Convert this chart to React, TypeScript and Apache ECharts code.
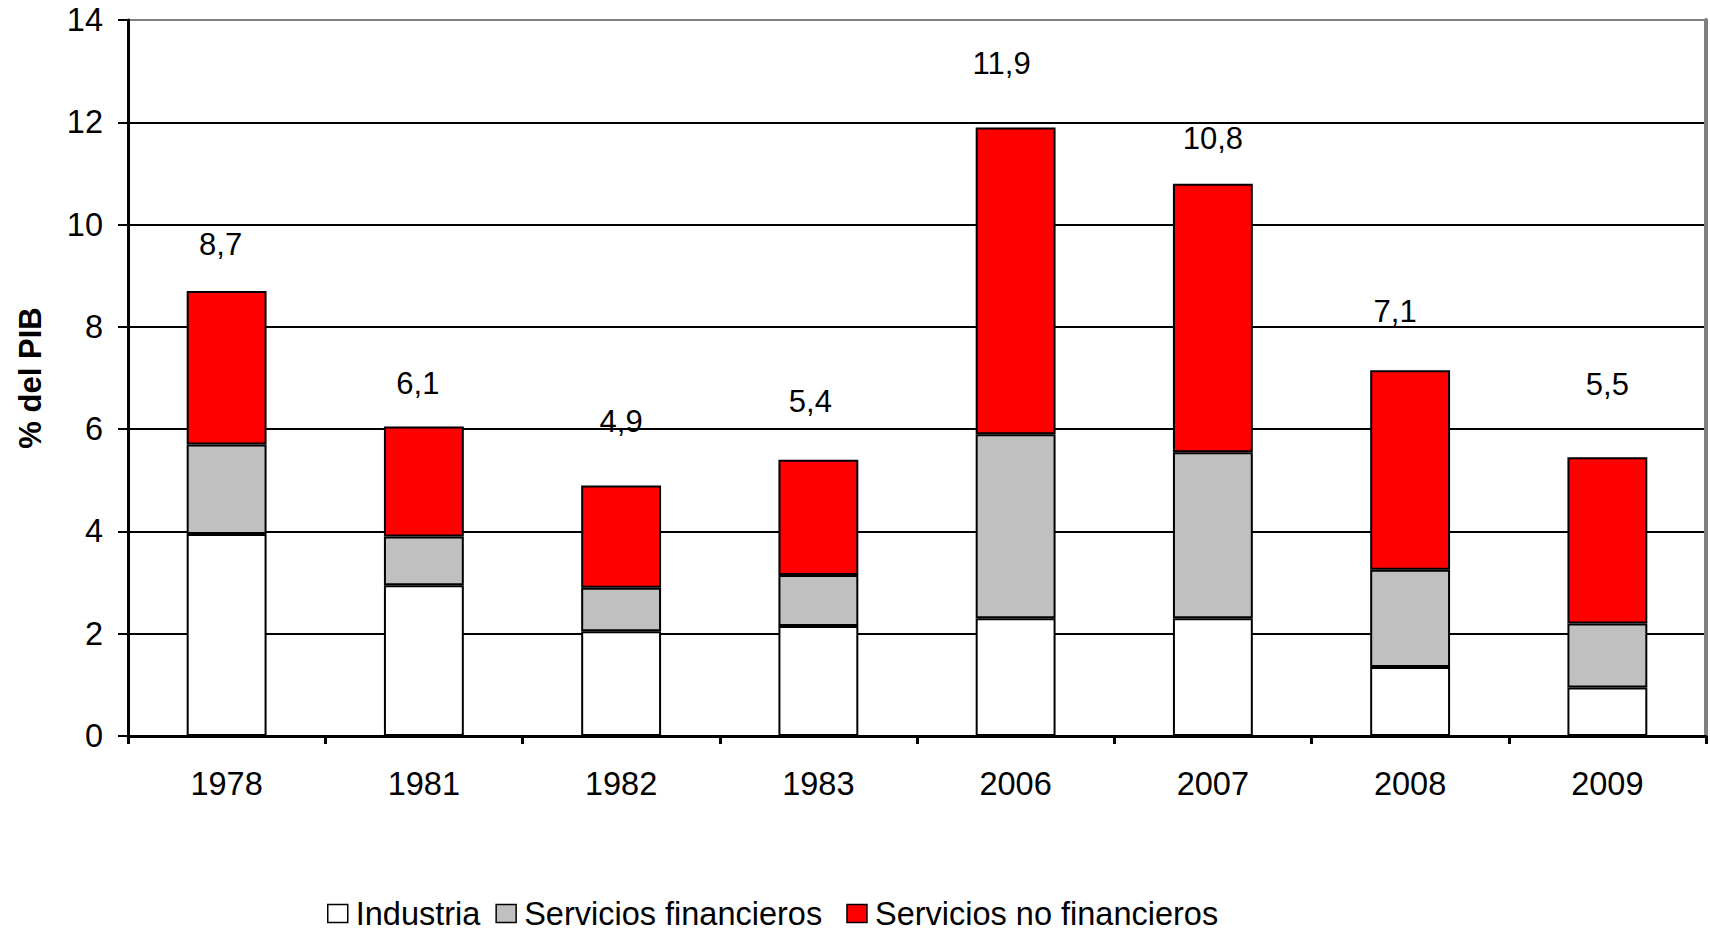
import React, { useEffect, useRef } from "react";
import * as echarts from "echarts";

const years = ["1978", "1981", "1982", "1983", "2006", "2007", "2008", "2009"];
const industria = [3.95, 2.95, 2.05, 2.15, 2.3, 2.3, 1.35, 0.95];
const serviciosFinancieros = [1.75, 0.95, 0.85, 1.0, 3.6, 3.25, 1.9, 1.25];
const serviciosNoFinancieros = [3.0, 2.15, 2.0, 2.25, 6.0, 5.25, 3.9, 3.25];
const totalLabels = ["8,7", "6,1", "4,9", "5,4", "11,9", "10,8", "7,1", "5,5"];
const seriesNames = ["Industria", "Servicios financieros", "Servicios no financieros"];
const yTicks = [0, 2, 4, 6, 8, 10, 12, 14];

// label placement tweaks (style only, px)
const labelOffsets: [number, number][] = [
  [-6, -31],
  [-6, -28],
  [0, -48],
  [-8, -43],
  [-14, -48],
  [0, -30],
  [-15, -43],
  [0, -57],
];

const FONT = "'Liberation Sans', Arial, sans-serif";

export default function App() {
  const ref = useRef<HTMLDivElement>(null);
  useEffect(() => {
    if (!ref.current) return;
    const chart = echarts.init(ref.current, undefined, { renderer: "svg" });
    const border = { borderColor: "#000", borderWidth: 2 };
    const splitColors = yTicks.map((t, i) => (i === yTicks.length - 1 ? "#808080" : "#000"));
    chart.setOption({
      animation: false,
      textStyle: { fontFamily: FONT },
      grid: {
        left: 128,
        right: 4,
        top: 20,
        bottom: 196,
        containLabel: false,
        outerBoundsMode: "none",
      },
      legend: {
        left: 322,
        top: 892,
        itemWidth: 20,
        itemHeight: 18,
        itemGap: 15,
        icon: "rect",
        textStyle: {
          fontSize: 32.5,
          lineHeight: 26,
          color: "#000",
          fontFamily: FONT,
          padding: [0, 0, 0, 3],
        },
        itemStyle: { borderColor: "#000", borderWidth: 1.5 },
        formatter: (name: string) => (name === seriesNames[1] ? name + " " : name),
        data: seriesNames,
      },
      xAxis: {
        type: "category",
        data: years,
        boundaryGap: true,
        axisLine: { show: true, lineStyle: { color: "#000", width: 3 } },
        axisTick: { show: true, length: 8, lineStyle: { color: "#000", width: 3 } },
        axisLabel: { color: "#000", fontSize: 32.5, margin: 31, fontFamily: FONT },
      },
      yAxis: [
        {
          type: "value",
          min: 0,
          max: 14,
          interval: 2,
          name: "% del PIB",
          nameLocation: "middle",
          nameGap: 82,
          nameRotate: 90,
          nameTextStyle: { fontSize: 31, fontWeight: "bold", color: "#000", fontFamily: FONT },
          axisLine: { show: true, lineStyle: { color: "#000", width: 3 } },
          axisTick: { show: true, length: 10, lineStyle: { color: "#000", width: 2 } },
          axisLabel: { color: "#000", fontSize: 32.5, margin: 25, fontFamily: FONT },
          splitLine: { show: true, lineStyle: { color: splitColors, width: 2 } },
        },
        {
          type: "value",
          min: 0,
          max: 14,
          interval: 2,
          position: "right",
          axisLine: { show: true, lineStyle: { color: "#808080", width: 4 } },
          axisTick: { show: false },
          axisLabel: { show: false },
          splitLine: { show: false },
        },
      ],
      series: [
        {
          name: seriesNames[0],
          type: "bar",
          stack: "total",
          barWidth: "40.5%",
          data: industria,
          itemStyle: { color: "#FFFFFF", ...border },
        },
        {
          name: seriesNames[1],
          type: "bar",
          stack: "total",
          data: serviciosFinancieros,
          itemStyle: { color: "#C0C0C0", ...border },
        },
        {
          name: seriesNames[2],
          type: "bar",
          stack: "total",
          data: serviciosNoFinancieros.map((v, i) => ({
            value: v,
            label: { offset: labelOffsets[i] },
          })),
          itemStyle: { color: "#FF0000", ...border },
          label: {
            show: true,
            position: "top",
            distance: 0,
            fontSize: 31,
            color: "#000",
            fontFamily: FONT,
            formatter: (p: any) => totalLabels[p.dataIndex],
          },
        },
      ],
    });
    return () => chart.dispose();
  }, []);
  return (
    <div
      ref={ref}
      style={{ position: "fixed", left: 0, top: 0, width: 1710, height: 932, background: "#fff" }}
    />
  );
}
